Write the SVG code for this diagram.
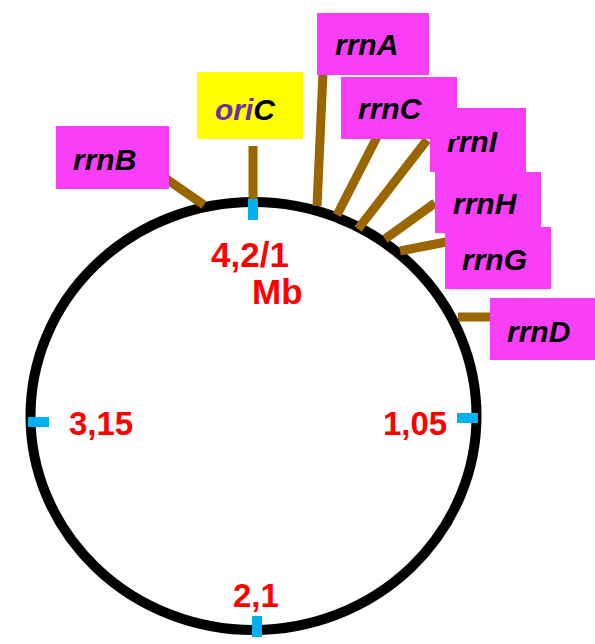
<svg xmlns="http://www.w3.org/2000/svg" width="595" height="644" viewBox="0 0 595 644">
<style>
.box{fill:#F93EF8}
.lbl{font-family:"Liberation Sans",Arial,sans-serif;font-weight:bold;font-style:italic;font-size:30px;fill:#000}
.num{font-family:"Liberation Sans",Arial,sans-serif;font-weight:bold;font-size:33px;fill:#FF0000}
.big{font-size:35px}
.tick{fill:#00B0F0}
.lead{stroke:#996600;stroke-width:9;fill:none}
</style>
<rect width="595" height="644" fill="#fff"/>
<g id="chromosome">
<ellipse cx="253.5" cy="416" rx="223" ry="214" fill="none" stroke="#000" stroke-width="10"/>
</g>
<g id="connectors">
<line class="lead" x1="253" y1="146" x2="253" y2="199"/>
<line class="lead" x1="165" y1="178" x2="204" y2="205"/>
<line class="lead" x1="323" y1="73" x2="317" y2="206"/>
<line class="lead" x1="378" y1="135" x2="337" y2="215"/>
<line class="lead" x1="427" y1="140" x2="358" y2="229"/>
<line class="lead" x1="435" y1="203" x2="385" y2="239"/>
<line class="lead" x1="446" y1="242" x2="400" y2="251"/>
<line class="lead" x1="458" y1="317" x2="492" y2="317"/>
</g>
<g id="ticks">
<rect class="tick" x="248" y="199" width="10" height="21"/>
<rect class="tick" x="28" y="417" width="21" height="10"/>
<rect class="tick" x="457" y="413" width="21" height="10"/>
<rect class="tick" x="252" y="616" width="10" height="21"/>
</g>
<g id="oriC">
<rect x="197" y="72" width="106" height="67" fill="#FFFF00"/>
<text class="lbl" x="215" y="120"><tspan fill="#7030A0">ori</tspan>C</text>
</g>
<g id="rrnB">
<rect class="box" x="56" y="126" width="113" height="63"/>
<text class="lbl" x="73" y="170">rrnB</text>
</g>
<g id="rrnI">
<rect class="box" x="430" y="108" width="96" height="64"/>
<text class="lbl" x="447" y="152">rrnI</text>
</g>
<g id="rrnA">
<rect class="box" x="317" y="13" width="112" height="62"/>
<text class="lbl" x="335" y="55">rrnA</text>
</g>
<g id="rrnC">
<rect class="box" x="341" y="77" width="116" height="62"/>
<text class="lbl" x="358" y="119">rrnC</text>
</g>
<g id="rrnH">
<rect class="box" x="435" y="172" width="106" height="61"/>
<text class="lbl" x="453" y="214">rrnH</text>
</g>
<g id="rrnG">
<rect class="box" x="445" y="227" width="106" height="62"/>
<text class="lbl" x="462" y="270">rrnG</text>
</g>
<g id="rrnD">
<rect class="box" x="490" y="298" width="105" height="62"/>
<text class="lbl" x="507" y="342">rrnD</text>
</g>
<g id="labels">
<text class="num big" x="211" y="267">4,2/1</text>
<text class="num big" x="252" y="304">Mb</text>
<text class="num" x="69" y="435">3,15</text>
<text class="num" x="383" y="435">1,05</text>
<text class="num" x="233" y="607">2,1</text>
</g>
</svg>
